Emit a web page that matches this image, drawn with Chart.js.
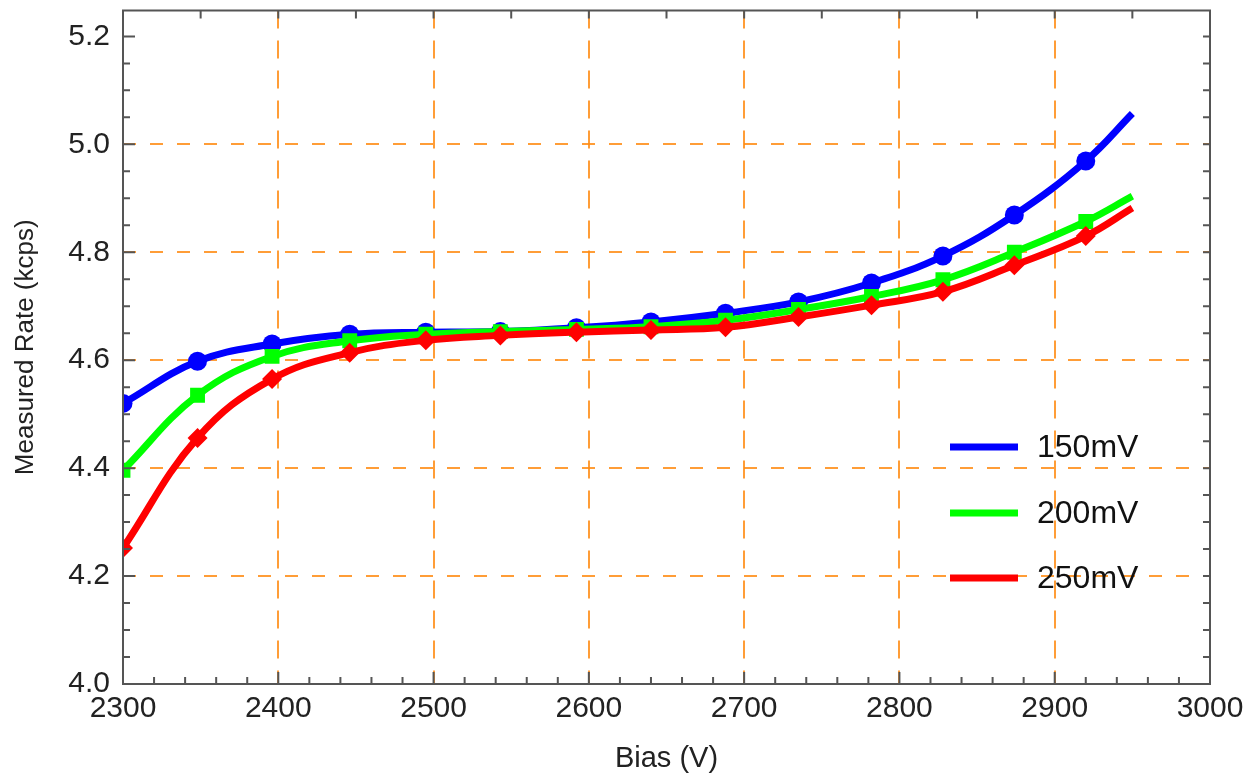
<!DOCTYPE html>
<html>
<head>
<meta charset="utf-8">
<script src="https://cdn.jsdelivr.net/npm/chart.js@4.4.1/dist/chart.umd.min.js"></script>
<style>
  html, body { margin: 0; padding: 0; background: #fff; }
  #wrap { width: 1255px; height: 776px; }
</style>
</head>
<body>
<div id="wrap"><canvas id="rateChart" width="1255" height="776"></canvas></div>
<script>
// Bias voltages (V) where the rate was measured; last entry is the fit end (no marker)
const biasVolts = [2300, 2348, 2396, 2446, 2495, 2543, 2592, 2640, 2688, 2735, 2782, 2828, 2874, 2920, 2950];

// Measured rate (kcps) per threshold
const rate150 = [4.520, 4.598, 4.630, 4.648, 4.652, 4.653, 4.660, 4.671, 4.687, 4.708, 4.743, 4.793, 4.869, 4.969, 5.057];
const rate200 = [4.396, 4.535, 4.607, 4.636, 4.648, 4.653, 4.657, 4.662, 4.674, 4.694, 4.718, 4.749, 4.800, 4.857, 4.904];
const rate250 = [4.252, 4.456, 4.565, 4.614, 4.637, 4.646, 4.652, 4.656, 4.661, 4.680, 4.702, 4.727, 4.776, 4.830, 4.882];

const seriesLabels = ["150mV", "200mV", "250mV"];

// Axis ticks
const xTicks = [2300, 2400, 2500, 2600, 2700, 2800, 2900, 3000];
const yTicks = [4.0, 4.2, 4.4, 4.6, 4.8, 5.0, 5.2];

const gridOrange = 'rgba(255,140,20,0.85)';
const axisGray = '#555';
const fontFam = '"Liberation Sans", Arial, sans-serif';

function makeSeries(label, vals, color, marker, radius, order) {
  return {
    label: label,
    data: biasVolts.map((x, i) => ({ x: x, y: vals[i] })),
    borderColor: color,
    backgroundColor: color,
    borderWidth: 7,
    pointStyle: marker,
    pointRadius: biasVolts.map((x, i) => i === biasVolts.length - 1 ? 0 : radius),
    pointBorderWidth: 0,
    pointHoverRadius: 0,
    tension: 0.4,
    order: order
  };
}

// frame, inward tick marks and inside legend
const framePlugin = {
  id: 'frame',
  afterDraw(chart) {
    const { ctx, chartArea: a, scales } = chart;
    const xs = scales.x, ys = scales.y;
    ctx.save();
    ctx.strokeStyle = axisGray;
    ctx.lineWidth = 2;
    ctx.strokeRect(a.left, a.top, a.right - a.left, a.bottom - a.top);
    ctx.beginPath();
    // bottom ticks every 20 V
    for (let v = 2300; v <= 3000; v += 20) {
      const px = xs.getPixelForValue(v);
      const len = v % 100 === 0 ? 12 : 7;
      ctx.moveTo(px, a.bottom); ctx.lineTo(px, a.bottom - len);
    }
    // top ticks every 50 V
    for (let v = 2350; v < 3000; v += 50) {
      const px = xs.getPixelForValue(v);
      ctx.moveTo(px, a.top); ctx.lineTo(px, a.top + 8);
    }
    // left and right ticks every 0.05
    for (let k = 0; k <= 24; k++) {
      const v = 4.0 + k * 0.05;
      const py = ys.getPixelForValue(v);
      const len = k % 4 === 0 ? 12 : 7;
      ctx.moveTo(a.left, py); ctx.lineTo(a.left + len, py);
      ctx.moveTo(a.right, py); ctx.lineTo(a.right - 7, py);
    }
    ctx.stroke();

    // legend
    const rows = [447, 513, 578];
    ctx.font = '32px ' + fontFam;
    ctx.textBaseline = 'middle';
    ctx.fillStyle = '#111';
    chart.data.datasets.forEach((ds, i) => {
      ctx.strokeStyle = ds.borderColor;
      ctx.lineWidth = 7;
      ctx.beginPath();
      ctx.moveTo(950, rows[i]); ctx.lineTo(1018, rows[i]);
      ctx.stroke();
      ctx.fillText(ds.label, 1037, rows[i] + 1);
    });
    ctx.restore();
  }
};

const ctx = document.getElementById('rateChart').getContext('2d');
const rateChart = new Chart(ctx, {
  type: 'line',
  data: {
    datasets: [
      makeSeries(seriesLabels[0], rate150, '#0000ff', 'circle', 9.5, 3),
      makeSeries(seriesLabels[1], rate200, '#00ff00', 'rect', 10.5, 2),
      makeSeries(seriesLabels[2], rate250, '#ff0000', 'rectRot', 10, 1)
    ]
  },
  options: {
    responsive: false,
    animation: false,
    layout: { padding: { top: 10, right: 45, left: 0, bottom: 0 } },
    plugins: {
      legend: { display: false },
      tooltip: { enabled: false }
    },
    scales: {
      x: {
        type: 'linear',
        min: 2300,
        max: 3000,
        afterBuildTicks(scale) { scale.ticks = xTicks.map(v => ({ value: v })); },
        afterFit(scale) { scale.height = 92; scale.paddingLeft = 0; scale.paddingRight = 0; },
        ticks: {
          color: '#222',
          padding: 7,
          maxRotation: 0,
          callback: v => String(v),
          font: { size: 30, family: fontFam }
        },
        grid: {
          drawTicks: false,
          lineWidth: 2,
          color: c => (c.tick && c.tick.value > 2300 && c.tick.value < 3000) ? gridOrange : 'rgba(0,0,0,0)'
        },
        border: { display: false, dash: [18, 12] },
        title: {
          display: true,
          text: 'Bias (V)',
          color: '#222',
          padding: { top: 0, bottom: 0 },
          font: { size: 29, family: fontFam }
        }
      },
      y: {
        min: 4.0,
        max: 5.248,
        afterBuildTicks(scale) { scale.ticks = yTicks.map(v => ({ value: v })); },
        afterFit(scale) { scale.width = 123; scale.paddingTop = 0; scale.paddingBottom = 0; },
        ticks: {
          color: '#222',
          padding: 13,
          callback: v => v.toFixed(1),
          font: { size: 30, family: fontFam }
        },
        grid: {
          drawTicks: false,
          lineWidth: 2,
          color: c => (c.tick && c.tick.value > 4.01 && c.tick.value < 5.19) ? gridOrange : 'rgba(0,0,0,0)'
        },
        border: { display: false, dash: [13, 14] },
        title: {
          display: true,
          text: 'Measured Rate (kcps)',
          color: '#222',
          padding: { top: 10, bottom: 0 },
          font: { size: 26, family: fontFam }
        }
      }
    }
  },
  plugins: [framePlugin]
});
</script>
</body>
</html>
